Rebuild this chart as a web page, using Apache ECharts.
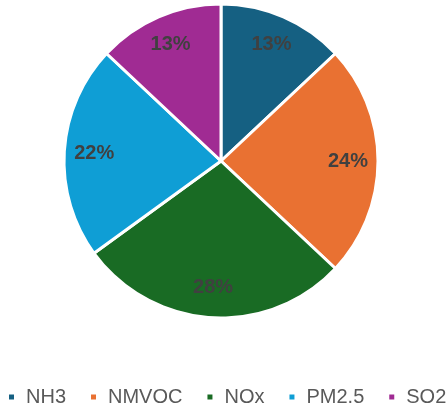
<!DOCTYPE html>
<html lang="en">
  <head>
    <meta charset="UTF-8" />
    <title>Emissions share</title>
    <script src="https://cdn.jsdelivr.net/npm/echarts@6/dist/echarts.min.js"></script>
    <style>
      html, body { margin: 0; padding: 0; background: #fff; }
    </style>
  </head>
  <body>
    <div id="pie" style="width: 446px; height: 409px"></div>
  </body>
  <script>
    // pollutant shares (%)
    let categories = ["NH3", "NMVOC", "NOx", "PM2.5", "SO2"];
    let shares = [13, 24, 28, 22, 13];
    let colors = ["#156082", "#E97132", "#196B24", "#0F9ED5", "#A02B93"];

    let pieData = categories.map((name, i) => ({
      name: name,
      value: shares[i],
      itemStyle: { color: colors[i] },
    }));

    let chart = echarts.init(document.getElementById("pie"));
    chart.setOption({
      backgroundColor: "#fff",
      animation: false,
      color: colors,
      legend: {
        data: categories,
        bottom: 2,
        left: 7,
        width: 520,
        padding: 0,
        align: "left",
        icon: "rect",
        itemWidth: 7,
        itemHeight: 7,
        itemGap: 23,
        textStyle: {
          color: "#595959",
          fontSize: 20,
          fontFamily: "Liberation Sans",
          padding: [0, 0, 0, 6],
        },
      },
      series: [
        {
          type: "pie",
          center: [221, 161],
          radius: [0, 157],
          startAngle: 90,
          clockwise: true,
          silent: true,
          label: { show: false },
          labelLine: { show: false },
          itemStyle: { borderColor: "#fff", borderWidth: 3 },
          data: pieData,
        },
        {
          // transparent ring just to place labels near the rim
          type: "pie",
          center: [221, 161],
          radius: [91, 157],
          startAngle: 90,
          clockwise: true,
          silent: true,
          legendHoverLink: false,
          itemStyle: { color: "transparent", borderWidth: 0 },
          label: {
            show: true,
            position: "inside",
            formatter: "{d}%",
            color: "#404040",
            fontSize: 20,
            fontWeight: "bold",
            fontFamily: "Liberation Sans",
          },
          labelLine: { show: false },
          data: categories.map((name, i) => ({ name: name, value: shares[i] })),
        },
      ],
    });
  </script>
</html>
